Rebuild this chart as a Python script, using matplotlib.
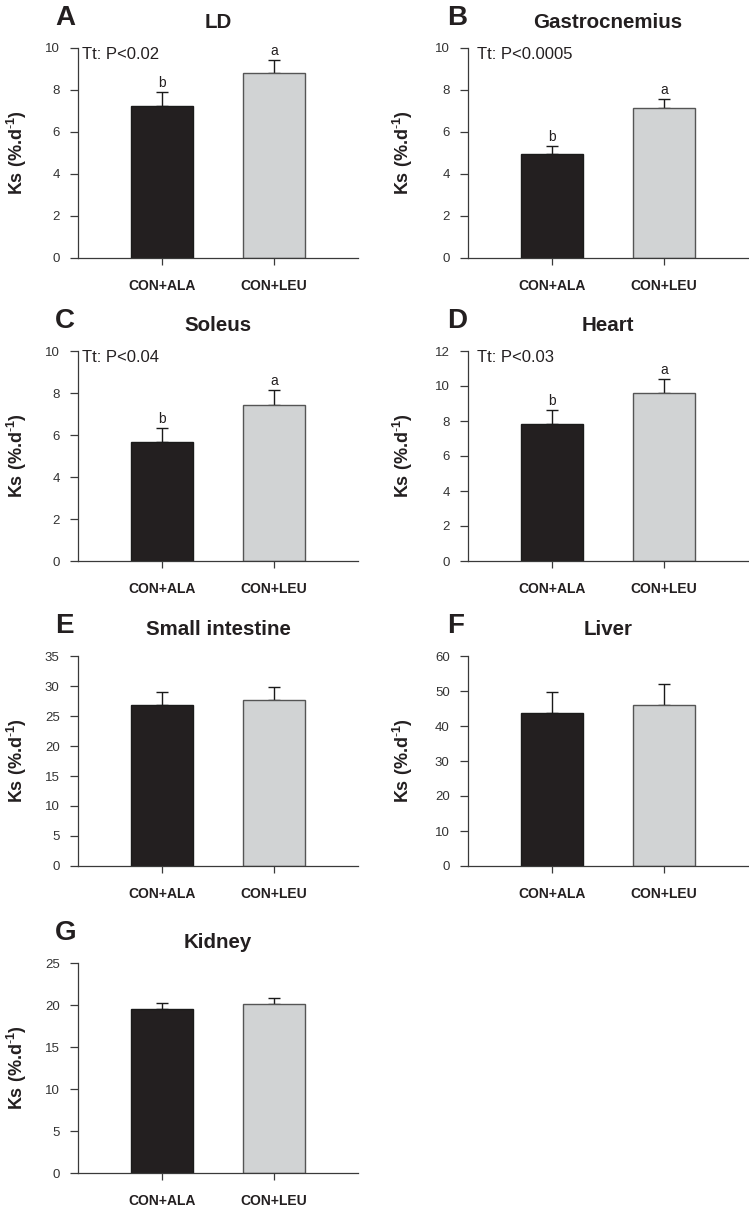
import matplotlib
matplotlib.use('Agg')
import matplotlib.pyplot as plt
import numpy as np

plt.rcParams['font.family'] = ['Liberation Sans', 'DejaVu Sans']
plt.rcParams['mathtext.fontset'] = 'custom'
plt.rcParams['mathtext.rm'] = 'Liberation Sans'
plt.rcParams['mathtext.bf'] = 'Liberation Sans:bold'
plt.rcParams['mathtext.it'] = 'Liberation Sans:italic'

# ---------------- data ----------------
groups = ['CON+ALA', 'CON+LEU']
panel_letters = ['A', 'B', 'C', 'D', 'E', 'F', 'G']
tissues = ['LD', 'Gastrocnemius', 'Soleus', 'Heart', 'Small intestine', 'Liver', 'Kidney']
ala_means = [7.25, 4.97, 5.68, 7.85, 26.8, 43.7, 19.56]
ala_err = [0.65, 0.37, 0.66, 0.76, 2.2, 6.0, 0.68]
leu_means = [8.80, 7.16, 7.41, 9.61, 27.7, 45.9, 20.08]
leu_err = [0.62, 0.40, 0.71, 0.78, 2.2, 6.1, 0.71]
y_max = [10, 10, 10, 12, 35, 60, 25]
y_step = [2, 2, 2, 2, 5, 10, 5]
p_text = ['Tt: P<0.02', 'Tt: P<0.0005', 'Tt: P<0.04', 'Tt: P<0.03', None, None, None]
ala_sig = ['b', 'b', 'b', 'b', None, None, None]
leu_sig = ['a', 'a', 'a', 'a', None, None, None]
ylabel = r'Ks (%.d$\mathbf{^{\text{-}1}}$)'

# ---------------- style / layout ----------------
W, H = 749, 1210
col_left = [78, 468]
ax_w = 280
row_bottom = [258, 561, 866, 1173]
ax_h = 210
title_pad = [14.5, 14.5, 14.5, 14.5, 15, 15, 11]
ylabel_off = [-49, -53]
tt_off = [4, 9]
letter_off = [-23, -21]

c_dark = '#231f20'
c_light = '#d1d3d4'
c_axis = '#3a3a3a'

fig = plt.figure(figsize=(W / 100, H / 100), dpi=100)

for i in range(7):
    col = i % 2
    row = i // 2
    left = col_left[col] / W
    bottom = 1 - row_bottom[row] / H
    ax = fig.add_axes([left, bottom, ax_w / W, ax_h / H])

    x = np.arange(len(groups))
    means = [ala_means[i], leu_means[i]]
    errs = [ala_err[i], leu_err[i]]
    ax.bar(x, means, width=0.55, color=[c_dark, c_light],
           edgecolor=['#1a1a1a', '#555555'], linewidth=1.0, zorder=2)
    ax.errorbar(x, means, yerr=[[0, 0], errs], fmt='none', ecolor='#1a1a1a',
                elinewidth=1.0, capsize=4.3, capthick=1.0, zorder=1)

    ax.set_xlim(-0.75, 1.75)
    ax.set_ylim(0, y_max[i])
    ax.set_yticks(np.arange(0, y_max[i] + 0.001, y_step[i]))
    ax.set_xticks(x)
    ax.set_xticklabels(groups, fontsize=10, fontweight='bold', color=c_dark)

    for s in ['top', 'right']:
        ax.spines[s].set_visible(False)
    for s in ['left', 'bottom']:
        ax.spines[s].set_color(c_axis)
        ax.spines[s].set_linewidth(0.9)
    ax.tick_params(axis='y', direction='out', length=6.0, width=0.9,
                   color=c_axis, labelsize=9.5, labelcolor='#333333', pad=7.2)
    ax.tick_params(axis='x', direction='out', length=5.3, width=0.9,
                   color=c_axis, pad=10)

    ax.set_ylabel(ylabel, fontsize=13, fontweight='bold', color=c_dark)
    ax.yaxis.set_label_coords(ylabel_off[col] / ax_w, 0.5)

    ax.set_title(tissues[i], fontsize=14.8, fontweight='bold', color=c_dark,
                 pad=title_pad[i])
    ax.annotate(panel_letters[i], xy=(0, 1), xycoords='axes fraction',
                xytext=(letter_off[col], 23), textcoords='offset pixels',
                ha='left', va='baseline', fontsize=20, fontweight='bold',
                color=c_dark)

    if p_text[i]:
        ax.annotate(p_text[i], xy=(0, 1), xycoords='axes fraction',
                    xytext=(tt_off[col], 1), textcoords='offset pixels',
                    ha='left', va='top', fontsize=12, color=c_dark)
    for xi, sig, m, e in zip(x, [ala_sig[i], leu_sig[i]], means, errs):
        if sig:
            ax.annotate(sig, xy=(xi, m + e), xycoords='data',
                        xytext=(0, 2), textcoords='offset pixels',
                        ha='center', va='bottom', fontsize=10, color=c_dark)

fig.savefig('out.png', dpi=100)
